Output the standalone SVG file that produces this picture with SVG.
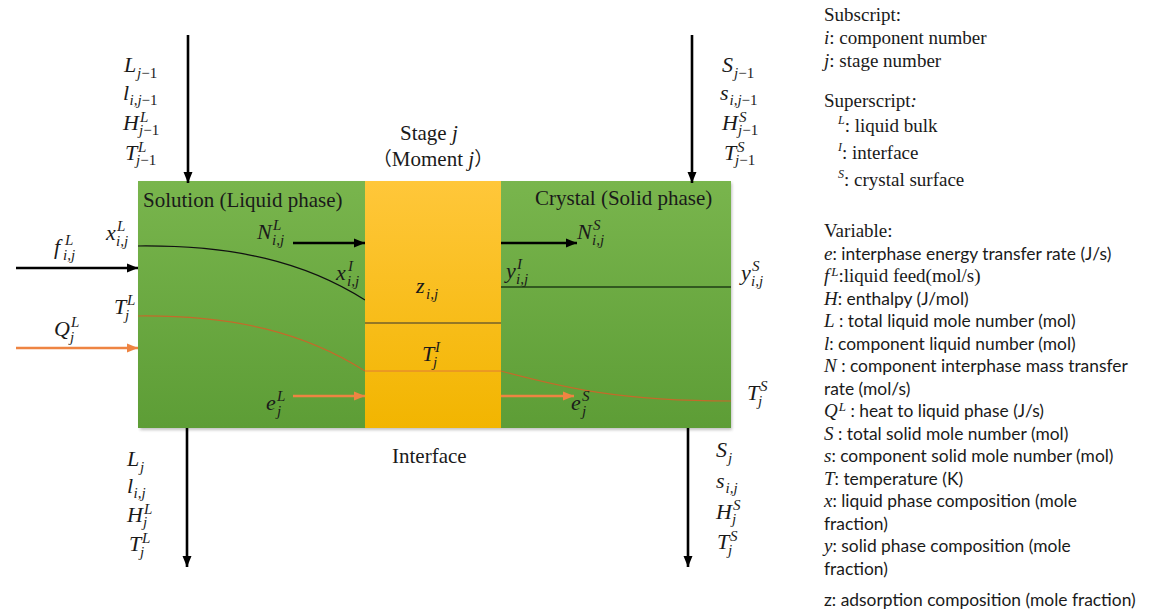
<svg xmlns="http://www.w3.org/2000/svg" width="1153" height="615" viewBox="0 0 1153 615">
<defs>
<style>
.mi{font-family:"Liberation Serif",serif;font-style:italic;font-size:22px;fill:#1a1a1a}
.ms{font-size:15px}
.up{font-style:normal}
.t{font-family:"Liberation Serif",serif;font-size:21px;fill:#1a1a1a}
.lg{font-family:"Liberation Serif",serif;font-size:19px;fill:#1a1a1a}
.ls{font-family:Lato,"Liberation Sans",sans-serif;font-size:17.4px;fill:#1a1a1a}
.lv{font-family:"Liberation Serif",serif;font-style:italic;font-size:19px}
.sp{font-family:"Liberation Serif",serif;font-style:italic;font-size:12px}
.blk{stroke:#000;stroke-width:2.6;fill:none}
.org{stroke:#ee8442;stroke-width:2.6;fill:none}
</style>
<linearGradient id="gG" x1="0" y1="181" x2="0" y2="428" gradientUnits="userSpaceOnUse">
<stop offset="0" stop-color="#79b54d"/><stop offset="1" stop-color="#5d9d36"/>
</linearGradient>
<linearGradient id="gY" x1="0" y1="181" x2="0" y2="428" gradientUnits="userSpaceOnUse">
<stop offset="0" stop-color="#ffc73a"/><stop offset="1" stop-color="#f2b500"/>
</linearGradient>
<filter id="sh" x="-5%" y="-5%" width="110%" height="115%"><feGaussianBlur stdDeviation="1.5"/></filter>
<marker id="aB" markerUnits="userSpaceOnUse" markerWidth="12" markerHeight="10" refX="11" refY="5" orient="auto"><path d="M0,0.5 L11,5 L0,9.5 Z" fill="#000"/></marker>
<marker id="aO" markerUnits="userSpaceOnUse" markerWidth="12" markerHeight="10" refX="11" refY="5" orient="auto"><path d="M0,0.5 L11,5 L0,9.5 Z" fill="#ee8442"/></marker>
</defs>
<rect width="1153" height="615" fill="#fff"/>
<rect x="140" y="183" width="592" height="247" fill="#9a9a9a" opacity="0.6" filter="url(#sh)"/>

<g id="liquid-phase">
<rect x="138" y="181" width="227" height="247" fill="url(#gG)"/>
<path d="M138,246 C235,245 305,262 365,300" stroke="#111" stroke-width="1.2" fill="none"/>
<path d="M138,316 C235,315 305,333 365,371" stroke="#c46a2a" stroke-width="1.2" fill="none"/>
<text class="t" x="143" y="207">Solution (Liquid phase)</text>
</g>

<g id="crystal-phase">
<rect x="501" y="181" width="230" height="247" fill="url(#gG)"/>
<line x1="501" y1="287" x2="731" y2="287" stroke="#1f3d14" stroke-width="1.5"/>
<path d="M501,371 C565,388 620,401 731,401" stroke="#c46a2a" stroke-width="1.2" fill="none"/>
<text class="t" x="535" y="205">Crystal (Solid phase)</text>
</g>

<g id="interface">
<rect x="365" y="181" width="136" height="247" fill="url(#gY)"/>
<line x1="365" y1="323" x2="501" y2="323" stroke="#333" stroke-width="1"/>
<line x1="365" y1="371" x2="501" y2="371" stroke="#e07b39" stroke-width="1"/>
</g>

<g id="connectors">
<line class="blk" x1="188" y1="35" x2="188" y2="183" marker-end="url(#aB)"/>
<line class="blk" x1="692" y1="35" x2="692" y2="183" marker-end="url(#aB)"/>
<line class="blk" x1="187" y1="428" x2="187" y2="567" marker-end="url(#aB)"/>
<line class="blk" x1="688" y1="428" x2="688" y2="567" marker-end="url(#aB)"/>
<line class="blk" x1="16" y1="268" x2="138" y2="268" marker-end="url(#aB)"/>
<line class="org" x1="16" y1="348" x2="138" y2="348" marker-end="url(#aO)"/>
<line class="blk" x1="293" y1="243" x2="365" y2="243" marker-end="url(#aB)"/>
<line class="blk" x1="501" y1="243" x2="577" y2="243" marker-end="url(#aB)"/>
<line class="org" x1="293" y1="396" x2="365" y2="396" marker-end="url(#aO)"/>
<line class="org" x1="501" y1="396" x2="574" y2="396" marker-end="url(#aO)"/>
</g>

<g id="labels">
<!-- top left stream -->
<text class="mi"><tspan x="124" y="72">L</tspan><tspan class="ms" x="137" y="78">j</tspan><tspan class="ms up">−1</tspan><tspan x="123" y="100">l</tspan><tspan class="ms" x="129.5" y="105">i,j</tspan><tspan class="ms up">−1</tspan><tspan x="123" y="130">H</tspan><tspan class="ms" x="140" y="122">L</tspan><tspan class="ms" x="139" y="135">j</tspan><tspan class="ms up">−1</tspan><tspan x="125" y="160">T</tspan><tspan class="ms" x="138" y="152">L</tspan><tspan class="ms" x="136" y="165">j</tspan><tspan class="ms up">−1</tspan></text>
<!-- top right stream -->
<text class="mi"><tspan x="722" y="72">S</tspan><tspan class="ms" x="734" y="78">j</tspan><tspan class="ms up">−1</tspan><tspan x="720" y="100">s</tspan><tspan class="ms" x="729.5" y="105">i,j</tspan><tspan class="ms up">−1</tspan><tspan x="722" y="130">H</tspan><tspan class="ms" x="739" y="122">S</tspan><tspan class="ms" x="738" y="135">j</tspan><tspan class="ms up">−1</tspan><tspan x="724" y="160">T</tspan><tspan class="ms" x="737" y="152">S</tspan><tspan class="ms" x="735" y="165">j</tspan><tspan class="ms up">−1</tspan></text>
<!-- bottom left stream -->
<text class="mi"><tspan x="127" y="466">L</tspan><tspan class="ms" x="140" y="472">j</tspan><tspan x="127" y="493">l</tspan><tspan class="ms" x="133.5" y="498">i,j</tspan><tspan x="127" y="522">H</tspan><tspan class="ms" x="144" y="514">L</tspan><tspan class="ms" x="143" y="527">j</tspan><tspan x="129" y="551">T</tspan><tspan class="ms" x="142" y="543">L</tspan><tspan class="ms" x="140" y="557">j</tspan></text>
<!-- bottom right stream -->
<text class="mi"><tspan x="716" y="457">S</tspan><tspan class="ms" x="728" y="463">j</tspan><tspan x="716" y="488">s</tspan><tspan class="ms" x="725.5" y="493">i,j</tspan><tspan x="716" y="519">H</tspan><tspan class="ms" x="733" y="510">S</tspan><tspan class="ms" x="732" y="524">j</tspan><tspan x="717" y="549">T</tspan><tspan class="ms" x="730" y="541">S</tspan><tspan class="ms" x="728" y="555">j</tspan></text>
<!-- inside / sides -->
<text class="mi"><tspan x="106" y="240">x</tspan><tspan class="ms" x="117" y="231">L</tspan><tspan class="ms" x="116" y="246">i,j</tspan></text>
<text class="mi"><tspan x="54" y="254">f</tspan><tspan class="ms" x="65" y="245">L</tspan><tspan class="ms" x="63" y="260">i,j</tspan></text>
<text class="mi"><tspan x="114" y="314">T</tspan><tspan class="ms" x="127" y="305">L</tspan><tspan class="ms" x="125" y="320">j</tspan></text>
<text class="mi"><tspan x="54" y="336">Q</tspan><tspan class="ms" x="71" y="327">L</tspan><tspan class="ms" x="70" y="342">j</tspan></text>
<text class="mi"><tspan x="257" y="239">N</tspan><tspan class="ms" x="273" y="230">L</tspan><tspan class="ms" x="272" y="245">i,j</tspan></text>
<text class="mi"><tspan x="336" y="280">x</tspan><tspan class="ms" x="348" y="271">I</tspan><tspan class="ms" x="347" y="286">i,j</tspan></text>
<text class="mi"><tspan x="266" y="410">e</tspan><tspan class="ms" x="277" y="401">L</tspan><tspan class="ms" x="277" y="416">j</tspan></text>
<text class="mi"><tspan x="416" y="293">z</tspan><tspan class="ms" x="426" y="299">i,j</tspan></text>
<text class="mi"><tspan x="422" y="361">T</tspan><tspan class="ms" x="435" y="352">I</tspan><tspan class="ms" x="433" y="367">j</tspan></text>
<text class="mi"><tspan x="577" y="239">N</tspan><tspan class="ms" x="593" y="230">S</tspan><tspan class="ms" x="592" y="245">i,j</tspan></text>
<text class="mi"><tspan x="506" y="278">y</tspan><tspan class="ms" x="517" y="269">I</tspan><tspan class="ms" x="516" y="284">i,j</tspan></text>
<text class="mi"><tspan x="741" y="280">y</tspan><tspan class="ms" x="752" y="271">S</tspan><tspan class="ms" x="751" y="286">i,j</tspan></text>
<text class="mi"><tspan x="747" y="400">T</tspan><tspan class="ms" x="760" y="391">S</tspan><tspan class="ms" x="758" y="406">j</tspan></text>
<text class="mi"><tspan x="571" y="410">e</tspan><tspan class="ms" x="582" y="401">S</tspan><tspan class="ms" x="582" y="416">j</tspan></text>
<!-- titles -->
<text class="t" x="400" y="140">Stage <tspan font-style="italic">j</tspan></text>
<text class="t" x="433" y="166" text-anchor="middle"><tspan font-family="'Noto Sans CJK SC',sans-serif" font-size="19">（</tspan>Moment <tspan font-style="italic">j</tspan><tspan font-family="'Noto Sans CJK SC',sans-serif" font-size="19">）</tspan></text>
<text class="t" x="392" y="463">Interface</text>
</g>

<g id="legend">
<text class="lg" x="824" y="21">Subscript:</text>
<text class="lg" x="824" y="44"><tspan font-style="italic">i</tspan>: component number</text>
<text class="lg" x="824" y="67"><tspan font-style="italic">j</tspan>: stage number</text>
<text class="lg" x="824" y="107">Superscript<tspan font-style="italic">:</tspan></text>
<text class="lg" x="838" y="132"><tspan class="sp" dy="-8">L</tspan><tspan dy="8">: liquid bulk</tspan></text>
<text class="lg" x="838" y="159"><tspan class="sp" dy="-8">I</tspan><tspan dy="8">: interface</tspan></text>
<text class="lg" x="838" y="186"><tspan class="sp" dy="-8">S</tspan><tspan dy="8">: crystal surface</tspan></text>
<text class="lg" x="824" y="237">Variable:</text>
<text class="ls" x="824" y="260"><tspan class="lv">e</tspan>: interphase energy transfer rate (J/s)</text>
<text class="lg" x="824" y="282"><tspan class="lv">f</tspan><tspan class="sp" style="font-size:13px" dx="2" dy="-6">L</tspan><tspan dy="6">:liquid feed(mol/s)</tspan></text>
<text class="ls" x="824" y="305"><tspan class="lv">H</tspan>: enthalpy (J/mol)</text>
<text class="ls" x="824" y="327"><tspan class="lv">L</tspan> : total liquid mole number (mol)</text>
<text class="ls" x="824" y="350"><tspan class="lv">l</tspan>: component liquid number (mol)</text>
<text class="ls" x="824" y="372"><tspan class="lv">N</tspan> : component interphase mass transfer</text>
<text class="ls" x="824" y="395">rate (mol/s)</text>
<text class="ls" x="824" y="417"><tspan class="lv">Q</tspan><tspan class="sp" style="font-size:13px" dx="1" dy="-6">L</tspan><tspan dy="6"> : heat to liquid phase (J/s)</tspan></text>
<text class="ls" x="824" y="440"><tspan class="lv">S</tspan> : total solid mole number (mol)</text>
<text class="ls" x="824" y="462"><tspan class="lv">s</tspan>: component solid mole number (mol)</text>
<text class="ls" x="824" y="485"><tspan class="lv">T</tspan>: temperature (K)</text>
<text class="ls" x="824" y="507"><tspan class="lv">x</tspan>: liquid phase composition (mole</text>
<text class="ls" x="824" y="530">fraction)</text>
<text class="ls" x="824" y="552"><tspan class="lv">y</tspan>: solid phase composition (mole</text>
<text class="ls" x="824" y="575">fraction)</text>
<text class="ls" x="824" y="606">z: adsorption composition (mole fraction)</text>
</g>
</svg>
